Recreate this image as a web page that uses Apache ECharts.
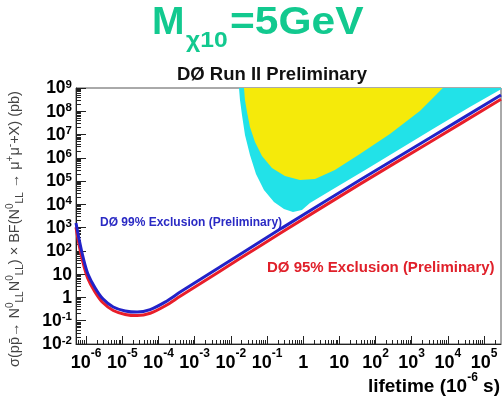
<!DOCTYPE html>
<html><head><meta charset="utf-8">
<script src="https://cdn.jsdelivr.net/npm/echarts@6/dist/echarts.min.js"></script>
<style>html,body{margin:0;padding:0;background:#fff}#c{width:503px;height:398px}</style>
</head><body><div id="c"></div>
<script>
// All values are log10 exponents (lifetime in 1e-6 s, cross section in pb)
const xMajorExp = [-6,-5,-4,-3,-2,-1,0,1,2,3,4,5];
const yMajorExp = [-2,-1,0,1,2,3,4,5,6,7,8,9];

// DØ 99% exclusion (blue)
const d0_99_tau = [-6.28,-6.19,-6.08,-5.95,-5.75,-5.53,-5.25,-4.92,-4.59,-4.23,-3.82,-3.40,-2.85,-1.75,-0.59,1.57,3.50,5.47];
const d0_99_sig = [3.20,2.47,1.70,1.01,0.41,-0.07,-0.41,-0.58,-0.63,-0.52,-0.20,0.23,0.77,1.85,2.98,5.05,6.85,8.70];
// DØ 95% exclusion (red)
const d0_95_tau = [-6.28,-6.20,-6.09,-5.96,-5.76,-5.54,-5.25,-4.92,-4.59,-4.23,-3.82,-3.40,-2.85,-1.75,-0.59,1.57,3.50,5.47];
const d0_95_sig = [3.02,2.30,1.52,0.84,0.25,-0.22,-0.56,-0.73,-0.78,-0.68,-0.37,0.05,0.59,1.67,2.80,4.87,6.67,8.52];
// NuTeV 99% preferred region (cyan) boundary
const nutevPref_tau = [-1.774,-1.746,-1.691,-1.608,-1.470,-1.304,-1.083,-0.807,-0.530,-0.282,-0.033,0.188,0.740,1.762,2.674,3.586,4.608,5.47,5.47];
const nutevPref_sig = [9.0,8.484,7.840,6.98,6.121,5.304,4.617,4.101,3.80,3.671,3.757,4.058,4.574,5.519,6.379,7.238,8.183,8.95,9.0];
// NuTeV 99% exclusion (yellow) boundary
const nutevExcl_tau = [-1.635,-1.608,-1.552,-1.470,-1.331,-1.138,-0.862,-0.503,-0.088,0.326,0.878,1.569,2.398,3.227,3.862];
const nutevExcl_sig = [9.0,8.484,7.969,7.324,6.679,6.078,5.562,5.218,5.046,5.089,5.476,6.164,7.023,8.012,9.0];

const xMin = -6.28, xMax = 5.47, yMin = -2, yMax = 9;

function minorTicks(lo, hi, a, b) {
  const out = [];
  for (let n = lo; n <= hi; n++) for (let k = 2; k <= 9; k++) {
    const v = n + Math.log10(k);
    if (v > a && v < b) out.push(v);
  }
  return out;
}
const xMinor = minorTicks(-7, 5, xMin, xMax);
const yMinor = minorTicks(-3, 9, yMin, yMax);

const FF = '"Liberation Sans", Arial, sans-serif';
function powLabel(v) {
  if (v === 0) return '{b|1}';
  if (v === 1) return '{b|10}';
  return '{b|10}{s|' + v + '}';
}
const richX = {
  b: {fontSize: 18, fontWeight: 'bold', fontFamily: FF, color: '#000', lineHeight: 24, verticalAlign: 'bottom'},
  s: {fontSize: 12, fontWeight: 'bold', fontFamily: FF, color: '#000', lineHeight: 12, verticalAlign: 'top'}
};
const richY = {
  b: {fontSize: 17.5, fontWeight: 'bold', fontFamily: FF, color: '#000', lineHeight: 19, verticalAlign: 'bottom'},
  s: {fontSize: 11.5, fontWeight: 'bold', fontFamily: FF, color: '#000', lineHeight: 10, verticalAlign: 'top'}
};

function polySeries(tau, sig, color) {
  return {
    type: 'custom', xAxisIndex: 0, yAxisIndex: 0, clip: true, silent: true,
    data: [[tau[0], sig[0]]],
    renderItem: function (params, api) {
      return {type: 'polygon', shape: {points: tau.map((t, i) => api.coord([t, sig[i]]))},
              style: {fill: color, stroke: null}};
    }
  };
}
function lineSeries(tau, sig, color) {
  return {type: 'line', xAxisIndex: 0, yAxisIndex: 0, showSymbol: false, smooth: 0.3,
    data: tau.map((t, i) => [t, sig[i]]), lineStyle: {color: color, width: 3}, silent: true};
}

const chart = echarts.init(document.getElementById('c'));
chart.setOption({
  animation: false,
  grid: {left: 76, right: 2, top: 88, bottom: 54, show: true, borderColor: '#555', borderWidth: 1, backgroundColor: 'transparent'},
  xAxis: [
    {type: 'value', min: xMin, max: xMax, position: 'bottom', splitLine: {show: false},
     axisLine: {show: true, onZero: false, lineStyle: {color: '#222', width: 1}},
     axisTick: {show: true, inside: true, length: 8, customValues: xMajorExp, lineStyle: {color: '#222'}},
     axisLabel: {customValues: xMajorExp, formatter: powLabel, rich: richX, margin: 4, showMinLabel: true, showMaxLabel: true, hideOverlap: false}},
    {type: 'value', min: xMin, max: xMax, position: 'bottom', splitLine: {show: false},
     axisLine: {show: false, onZero: false}, axisLabel: {show: false},
     axisTick: {show: true, inside: true, length: 4, customValues: xMinor, lineStyle: {color: '#222'}}}
  ],
  yAxis: [
    {type: 'value', min: yMin, max: yMax, position: 'left', splitLine: {show: false},
     axisLine: {show: true, onZero: false, lineStyle: {color: '#222', width: 1}},
     axisTick: {show: true, inside: true, length: 10, customValues: yMajorExp, lineStyle: {color: '#222'}},
     axisLabel: {customValues: yMajorExp, formatter: powLabel, rich: richY, margin: 4, showMinLabel: true, showMaxLabel: true, hideOverlap: false}},
    {type: 'value', min: yMin, max: yMax, position: 'left', splitLine: {show: false},
     axisLine: {show: false, onZero: false}, axisLabel: {show: false},
     axisTick: {show: true, inside: true, length: 5, customValues: yMinor, lineStyle: {color: '#222'}}}
  ],
  series: [
    polySeries(nutevPref_tau, nutevPref_sig, '#22e2e8'),
    polySeries(nutevExcl_tau, nutevExcl_sig, '#f5ea0a'),
    lineSeries(d0_95_tau, d0_95_sig, '#e81e2a'),
    lineSeries(d0_99_tau, d0_99_sig, '#2222c8')
  ],
  graphic: [
    {type: 'text', x: 152, y: 23, style: {text: 'M', font: 'bold 39px ' + FF, fill: '#12c98f', verticalAlign: 'middle'}},
    {type: 'text', x: 186, y: 41, scaleX: 1.12, style: {text: 'χ10', font: 'bold 22px ' + FF, fill: '#12c98f', verticalAlign: 'middle'}},
    {type: 'text', x: 230, y: 23, scaleX: 1.09, style: {text: '=5GeV', font: 'bold 39px ' + FF, fill: '#12c98f', verticalAlign: 'middle'}},
    {type: 'text', x: 272, y: 75, style: {text: 'DØ Run II Preliminary', font: 'bold 18.5px ' + FF, fill: '#111', align: 'center', verticalAlign: 'middle'}},
    {type: 'text', x: 257, y: 105, style: {text: 'NuTeV 99%  Exclusion', font: 'bold 12px ' + FF, fill: '#111', verticalAlign: 'middle'}},
    {type: 'text', x: 377, y: 148, rotation: 32 * Math.PI / 180, style: {text: 'NuTeV 99% Preferred Region', font: 'bold 12px ' + FF, fill: '#111', align: 'center', verticalAlign: 'middle'}},
    {type: 'text', x: 100, y: 223, style: {text: 'DØ 99% Exclusion (Preliminary)', font: 'bold 12px ' + FF, fill: '#2a2ac4', verticalAlign: 'middle'}},
    {type: 'text', x: 267, y: 268, style: {text: 'DØ 95% Exclusion (Preliminary)', font: 'bold 15px ' + FF, fill: '#e0202a', verticalAlign: 'middle'}},
    {type: 'text', x: 500, y: 384, style: {text: '{m|lifetime (10}{s|-6}{m| s)}', align: 'right', verticalAlign: 'middle',
      rich: {m: {font: 'bold 19px ' + FF, fill: '#000', lineHeight: 24, verticalAlign: 'bottom'},
             s: {font: 'bold 12px ' + FF, fill: '#000', lineHeight: 12, verticalAlign: 'top'}}}},
    {type: 'text', x: 15, y: 229, rotation: Math.PI / 2, style: {
      text: '{m|σ(pp̄→ N}{p|0}{d|LL}{m|N}{p|0}{d|LL}{m|) × BF(N}{p|0}{d|LL}{m| → μ}{p|+}{m|μ}{p|-}{m|+X) (pb)}',
      align: 'center', verticalAlign: 'middle',
      rich: {m: {font: '14.5px ' + FF, fill: '#444', lineHeight: 20, verticalAlign: 'middle'},
             p: {font: '10px ' + FF, fill: '#444', lineHeight: 10, verticalAlign: 'top'},
             d: {font: '10px ' + FF, fill: '#444', lineHeight: 10, verticalAlign: 'bottom'}}}}
  ]
});
</script></body></html>
